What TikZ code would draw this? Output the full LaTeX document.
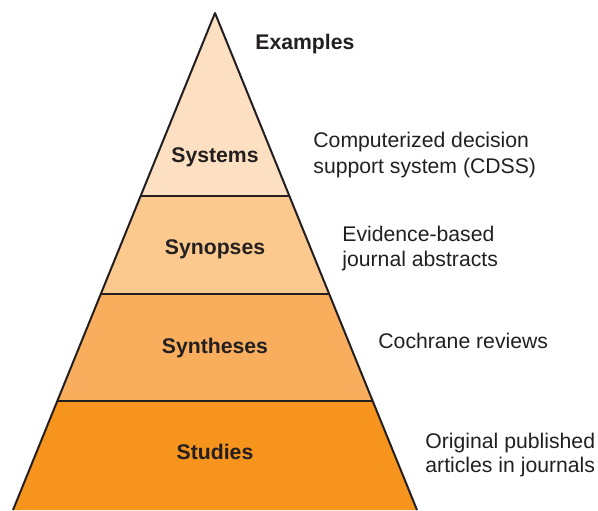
\documentclass[tikz,border=0pt]{standalone}
\usepackage{fontspec}
\setmainfont{Liberation Sans}
\definecolor{bandA}{RGB}{253,224,193}
\definecolor{bandB}{RGB}{251,200,142}
\definecolor{bandC}{RGB}{249,174,94}
\definecolor{bandD}{RGB}{247,148,30}
\definecolor{inkc}{RGB}{35,31,32}
\begin{document}
\begin{tikzpicture}[x=0.5pt,y=-0.5pt,
  edge/.style={draw=inkc,line width=1pt,line join=round},
  level/.style={font=\fontsize{10.6}{13}\selectfont\bfseries,text=inkc,inner sep=0pt,anchor=base},
  example/.style={font=\fontsize{10.6}{13}\selectfont,text=inkc,inner sep=0pt,anchor=base west,align=left}]
\useasboundingbox (0,0) rectangle (598,510);
% pyramid corners
\coordinate (apex) at (215,13);
\coordinate (bl) at (13,510);
\coordinate (br) at (417,510);
\coordinate (l1) at (140.6,196); \coordinate (r1) at (289.4,196);
\coordinate (l2) at (100.8,294); \coordinate (r2) at (329.2,294);
\coordinate (l3) at (57.3,401);  \coordinate (r3) at (372.7,401);
% bands
\fill[bandA] (apex) -- (l1) -- (r1) -- cycle;
\fill[bandB] (l1) -- (l2) -- (r2) -- (r1) -- cycle;
\fill[bandC] (l2) -- (l3) -- (r3) -- (r2) -- cycle;
\fill[bandD] (l3) -- (bl) -- (br) -- (r3) -- cycle;
% outlines
\draw[edge] (bl) -- (apex) -- (br);
\draw[edge] (l1) -- (r1);
\draw[edge] (l2) -- (r2);
\draw[edge] (l3) -- (r3);
% level labels
\node[level] (systems) at (215,162) {Systems};
\node[level] (synopses) at (215,254) {Synopses};
\node[level] (syntheses) at (215,353) {Syntheses};
\node[level] (studies) at (215,459) {Studies};
% examples
\node[example,font=\fontsize{10.6}{13}\selectfont\bfseries] (examples) at (255,49) {Examples};
\node[example] (ex1a) at (313,147) {Computerized decision};
\node[example] (ex1b) at (313,173) {support system (CDSS)};
\node[example] (ex2a) at (342,241) {Evidence-based};
\node[example] (ex2b) at (342,266) {journal abstracts};
\node[example] (ex3) at (378,348) {Cochrane reviews};
\node[example] (ex4a) at (425,448) {Original published};
\node[example] (ex4b) at (425,472) {articles in journals};
\end{tikzpicture}
\end{document}
